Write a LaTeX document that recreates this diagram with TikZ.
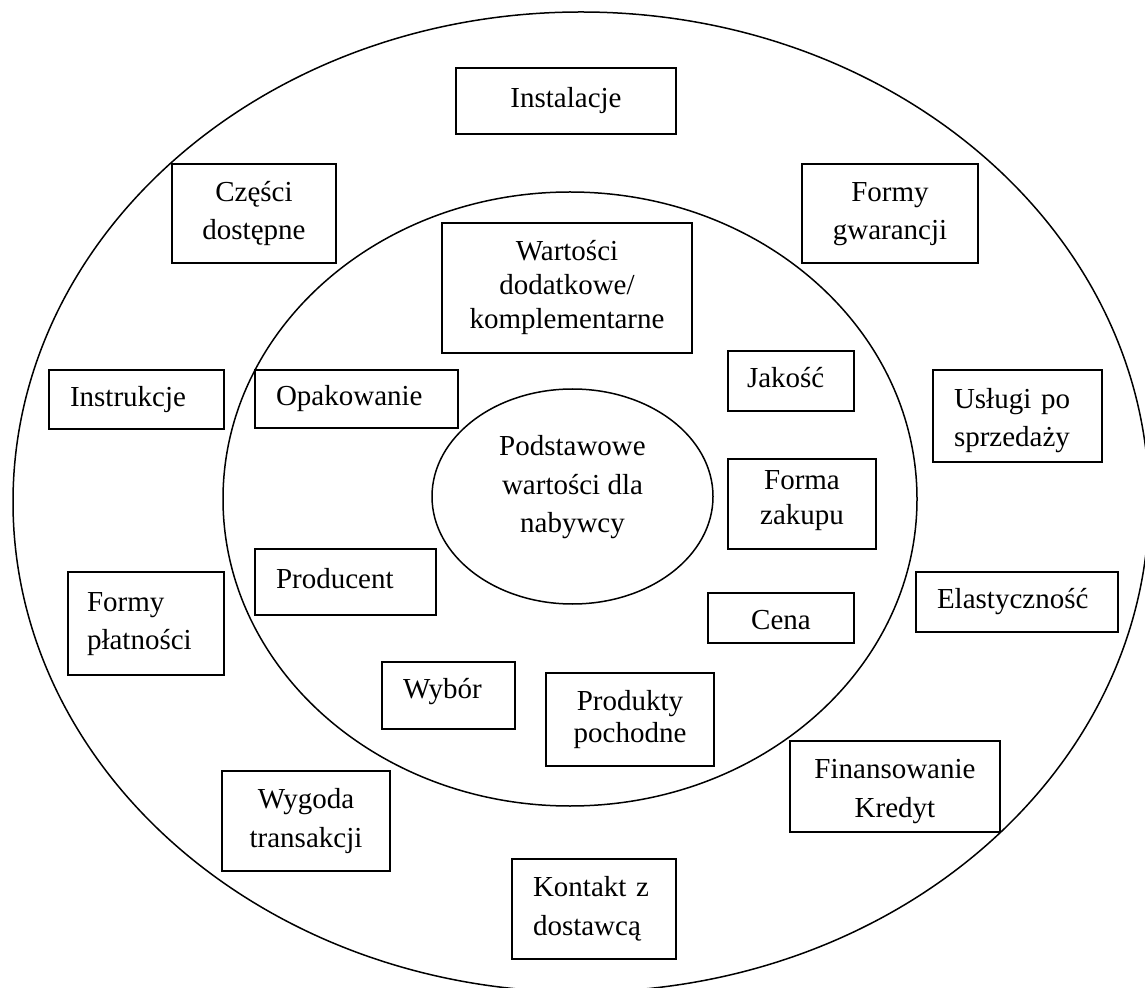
\documentclass[tikz,border=0pt]{standalone}
\usepackage{fontspec}
\setmainfont{Liberation Serif}
\usetikzlibrary{shapes.geometric}
\newcommand\fsz{\fontsize{14.5pt}{19.25pt}\selectfont}
\newcommand\tst{\rule[-0.22em]{0pt}{0.92em}}
\newcommand\tdown[1]{\rule{0pt}{#1}}
\newcommand\tup[1]{\rule[-#1]{0pt}{#1}}
\begin{document}
\begin{tikzpicture}[x=0.5pt,y=-0.5pt,
  ring/.style={draw, line width=0.75pt},
  cbox/.style={draw, fill=white, line width=1pt, align=center, inner sep=0pt, outer sep=0pt, font=\fsz},
  lbox/.style={draw, fill=white, line width=1pt, align=left, inner ysep=0pt, inner xsep=10.5pt, outer sep=0pt, font=\fsz},
  core/.style={draw, ellipse, fill=white, line width=0.75pt, align=center, inner sep=0pt, font=\fsz}]
\useasboundingbox (0,0) rectangle (1145,988);
\fill[white] (0,0) rectangle (1145,988);
% rings
\coordinate (c0) at (581,502);
\draw[ring] (c0) ellipse [x radius=284pt, y radius=245pt];
\coordinate (c1) at (570,499);
\draw[ring] (c1) ellipse [x radius=173.5pt, y radius=153.5pt];
% core
\node[core, minimum width=140.5pt, minimum height=107.5pt] (core) at (572.5,496.5)
  {\tst Podstawowe\\\tst wartości dla\\\tst nabywcy\tup{12.19pt}};
% centred boxes
\node[cbox, minimum width=110pt, minimum height=33pt] (inst) at (566,101) {\tst Instalacje};
\node[cbox, minimum width=82pt, minimum height=49.5pt] (czes) at (254,213.5) {\tst Części\\\tst dostępne};
\node[cbox, minimum width=88pt, minimum height=49.5pt] (gwar) at (890,213.5) {\tst Formy\\\tst gwarancji};
\node[cbox, minimum width=125pt, minimum height=65pt, font=\fontsize{14.5pt}{17pt}\selectfont] (wart) at (567,288)
  {\tst Wartości\\\tst dodatkowe/\\\tst komplementarne};
\node[cbox, minimum width=74pt, minimum height=45pt, font=\fontsize{14.5pt}{17.5pt}\selectfont] (forma) at (802,504)
  {\tst Forma\\\tst zakupu\tup{6.69pt}};
\node[cbox, minimum width=73pt, minimum height=25pt] (cena) at (781,618) {\tdown{15.15pt}\tst Cena};
\node[cbox, minimum width=84pt, minimum height=46.5pt, font=\fontsize{14.5pt}{16pt}\selectfont] (prod) at (630,719.5)
  {\tst Produkty\\\tst pochodne};
\node[cbox, minimum width=84pt, minimum height=50pt] (wyg) at (306,821) {\tst Wygoda\\\tst transakcji};
\node[cbox, minimum width=105pt, minimum height=45.5pt] (fin) at (895,786.5)
  {\tdown{14.65pt}\tst Finansowanie\\\tst Kredyt};
% left-aligned boxes
\node[lbox, text width=66.5pt, minimum height=29.5pt] (instr) at (136.5,399.5) {\tst Instrukcje};
\node[lbox, text width=80.5pt, minimum height=29pt] (opak) at (356.5,399) {\tst Opakowanie};
\node[lbox, text width=69.5pt, minimum height=33pt] (prodc) at (345.5,582) {\tst Producent};
\node[lbox, inner xsep=9.5pt, text width=59pt, minimum height=51.5pt] (plat) at (146,623.5) {\tst Formy\\\tst płatności};
\node[lbox, inner xsep=9.5pt, text width=44pt, minimum height=30pt] (jak) at (791,381) {\tst Jakość};
\node[lbox, text width=45.5pt, minimum height=33.5pt] (wyb) at (448.5,695.5) {\tst Wybór\tup{6.69pt}};
\node[lbox, text width=63.5pt, minimum height=46pt] (usl) at (1017.5,416) {\tdown{14.65pt}\tst Usługi po\\\tst sprzedaży};
\node[lbox, text width=80pt, minimum height=30pt] (elas) at (1017,602) {\tst Elastyczność};
\node[lbox, text width=61pt, minimum height=50pt] (kont) at (594,909) {\tst Kontakt z\\\tst dostawcą};
\end{tikzpicture}
\end{document}
